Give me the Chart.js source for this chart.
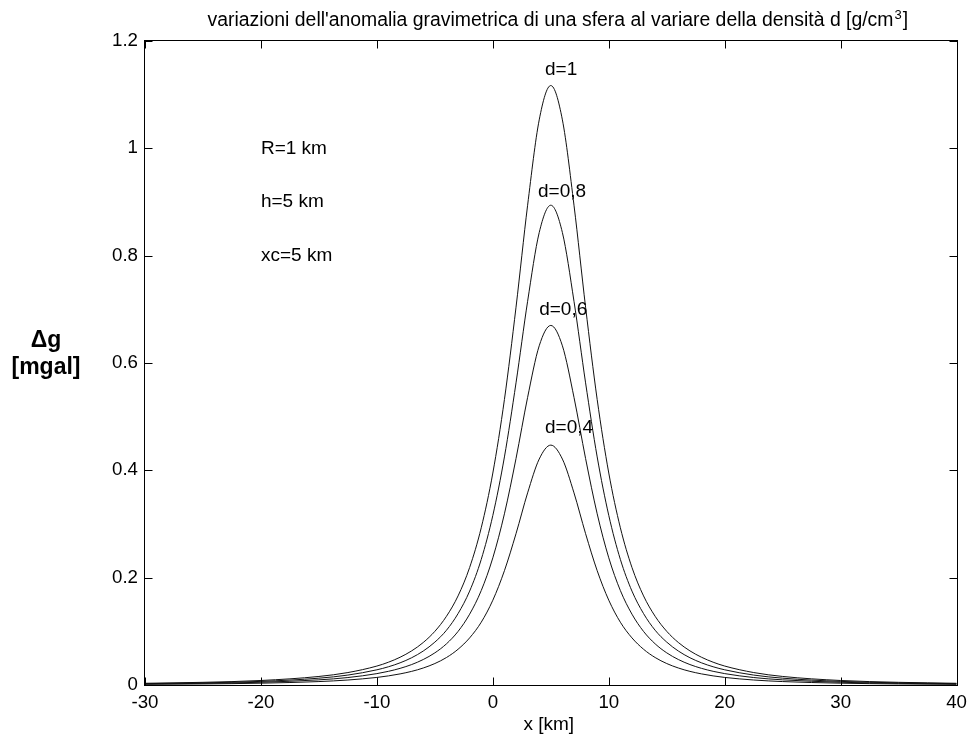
<!DOCTYPE html>
<html><head><meta charset="utf-8">
<script src="https://cdn.jsdelivr.net/npm/chart.js@4"></script>
<style>html,body{margin:0;padding:0;background:#fff}#c{display:block}</style>
</head><body>
<canvas id="c" width="974" height="738"></canvas>
<script>
// x positions in km
const xKm = [-30, -25, -20, -15, -12.5, -10, -9, -8, -7, -6, -5, -4, -3, -2, -1, 0, 1, 2, 3, 4, 5,
             6, 7, 8, 9, 10, 11, 12, 13, 14, 15, 16, 17, 18, 19, 20, 22.5, 25, 30, 35, 40];
// Δg [mgal], one array per density
const d10 = [0.0032, 0.0050, 0.0084, 0.0159, 0.0232, 0.0353, 0.0425, 0.0517, 0.0636, 0.0792, 0.100, 0.128, 0.166, 0.219, 0.293, 0.395, 0.532, 0.704, 0.894, 1.053, 1.117,
             1.053, 0.894, 0.704, 0.532, 0.395, 0.293, 0.219, 0.166, 0.128, 0.100, 0.0792, 0.0636, 0.0517, 0.0425, 0.0353, 0.0232, 0.0159, 0.0084, 0.0050, 0.0032];
const d08 = [0.0025, 0.0040, 0.0067, 0.0127, 0.0185, 0.0283, 0.0340, 0.0413, 0.0508, 0.0633, 0.0799, 0.102, 0.133, 0.175, 0.234, 0.316, 0.425, 0.563, 0.715, 0.843, 0.894,
             0.843, 0.715, 0.563, 0.425, 0.316, 0.234, 0.175, 0.133, 0.102, 0.0799, 0.0633, 0.0508, 0.0413, 0.0340, 0.0283, 0.0185, 0.0127, 0.0067, 0.0040, 0.0025];
const d06 = [0.0019, 0.0030, 0.0051, 0.0096, 0.0139, 0.0212, 0.0255, 0.0310, 0.0381, 0.0475, 0.0599, 0.0767, 0.0998, 0.132, 0.176, 0.237, 0.319, 0.422, 0.536, 0.632, 0.670,
             0.632, 0.536, 0.422, 0.319, 0.237, 0.176, 0.132, 0.0998, 0.0767, 0.0599, 0.0475, 0.0381, 0.0310, 0.0255, 0.0212, 0.0139, 0.0096, 0.0051, 0.0030, 0.0019];
const d04 = [0.0013, 0.0020, 0.0034, 0.0064, 0.0093, 0.0141, 0.0170, 0.0207, 0.0254, 0.0317, 0.0400, 0.0512, 0.0666, 0.0878, 0.117, 0.158, 0.213, 0.282, 0.358, 0.421, 0.447,
             0.421, 0.358, 0.282, 0.213, 0.158, 0.117, 0.0878, 0.0666, 0.0512, 0.0400, 0.0317, 0.0254, 0.0207, 0.0170, 0.0141, 0.0093, 0.0064, 0.0034, 0.0020, 0.0013];

const xTicks = [-30, -20, -10, 0, 10, 20, 30, 40];
const yTicks = [0, 0.2, 0.4, 0.6, 0.8, 1, 1.2];

const curveLabels = ['d=1', 'd=0,8', 'd=0,6', 'd=0,4'];
const curveLabelX = [4.5, 3.9, 4.0, 4.5];
const curveLabelY = [1.147, 0.92, 0.70, 0.479];

const noteText = ['R=1 km', 'h=5 km', 'xc=5 km'];
const noteX = [-20, -20, -20];
const noteY = [1.0, 0.9, 0.8];

const titleMain = "variazioni dell'anomalia gravimetrica di una sfera al variare della densità d [g/cm";
const titleSup = "3";
const titleEnd = "]";
const xTitle = 'x [km]';
const yTitle = ['\u0394g', '[mgal]'];

const FONT = "'Liberation Sans', Arial, Helvetica, sans-serif";

function toPts(ys) { return xKm.map((x, i) => ({x: x, y: ys[i]})); }
function ds(ys) {
  return {data: toPts(ys), borderColor: '#111', borderWidth: 1, pointRadius: 0,
          fill: false, cubicInterpolationMode: 'monotone'};
}

const extras = {
  id: 'extras',
  afterDraw(chart) {
    const ctx = chart.ctx, a = chart.chartArea;
    const sx = chart.scales.x, sy = chart.scales.y;
    ctx.save();
    ctx.strokeStyle = '#000';
    ctx.lineWidth = 1;
    // axes box
    const L = Math.round(a.left) - 0.5, R = Math.round(a.right) + 0.5;
    const T = Math.round(a.top) - 0.5, B = Math.round(a.bottom) + 0.5;
    ctx.strokeRect(L, T, R - L, B - T);
    // inward ticks
    ctx.beginPath();
    xTicks.forEach(v => {
      const p = Math.round(sx.getPixelForValue(v)) + 0.5;
      ctx.moveTo(p, B); ctx.lineTo(p, B - 8);
      ctx.moveTo(p, T); ctx.lineTo(p, T + 8);
    });
    yTicks.forEach(v => {
      const p = Math.round(sy.getPixelForValue(v)) + 0.5;
      ctx.moveTo(L, p); ctx.lineTo(L + 8, p);
      ctx.moveTo(R, p); ctx.lineTo(R - 8, p);
    });
    ctx.stroke();

    ctx.fillStyle = '#000';
    // curve labels and notes
    ctx.font = '19px ' + FONT;
    ctx.textAlign = 'left';
    ctx.textBaseline = 'middle';
    curveLabels.forEach((t, i) => {
      ctx.fillText(t, sx.getPixelForValue(curveLabelX[i]), sy.getPixelForValue(curveLabelY[i]));
    });
    noteText.forEach((t, i) => {
      ctx.fillText(t, sx.getPixelForValue(noteX[i]), sy.getPixelForValue(noteY[i]));
    });

    // title with superscript
    ctx.textBaseline = 'alphabetic';
    const fMain = '19.4px ' + FONT, fSup = '13px ' + FONT;
    ctx.font = fMain; const w1 = ctx.measureText(titleMain).width, w3 = ctx.measureText(titleEnd).width;
    ctx.font = fSup; const w2 = ctx.measureText(titleSup).width;
    const cx = (a.left + a.right) / 2 + 6;
    let x0 = cx - (w1 + w2 + w3) / 2;
    const base = 26;
    ctx.font = fMain; ctx.fillText(titleMain, x0, base);
    ctx.font = fSup; ctx.fillText(titleSup, x0 + w1 + 1, base - 7);
    ctx.font = fMain; ctx.fillText(titleEnd, x0 + w1 + w2 + 2, base);

    // x axis title
    ctx.font = '19px ' + FONT;
    ctx.textAlign = 'center';
    ctx.fillText(xTitle, (a.left + a.right) / 2 - 2, 730);

    // y axis title (horizontal, bold)
    ctx.font = 'bold 23px ' + FONT;
    ctx.fillText(yTitle[0], 46, 347);
    ctx.fillText(yTitle[1], 46, 374);
    ctx.restore();
  }
};

new Chart(document.getElementById('c'), {
  type: 'line',
  data: {datasets: [ds(d10), ds(d08), ds(d06), ds(d04)]},
  options: {
    responsive: false, animation: false, devicePixelRatio: 1,
    layout: {padding: {left: 0, right: 12, top: 41, bottom: 0}},
    plugins: {legend: {display: false}, tooltip: {enabled: false}, title: {display: false}},
    scales: {
      x: {
        type: 'linear', min: -30, max: 40,
        afterBuildTicks: s => { s.ticks = xTicks.map(v => ({value: v})); },
        afterFit: s => { s.height = 53; },
        grid: {display: false, drawTicks: false},
        border: {display: false},
        ticks: {color: '#000', font: {family: FONT, size: 18.7}, padding: 7,
                maxRotation: 0, autoSkip: false, callback: v => String(v)}
      },
      y: {
        type: 'linear', min: 0, max: 1.2,
        afterBuildTicks: s => { s.ticks = yTicks.map(v => ({value: v})); },
        afterFit: s => { s.width = 145; },
        grid: {display: false, drawTicks: false},
        border: {display: false},
        ticks: {color: '#000', font: {family: FONT, size: 18.7}, padding: 7,
                autoSkip: false, callback: v => String(Math.round(v * 10) / 10)}
      }
    }
  },
  plugins: [extras]
});
</script>
</body></html>
